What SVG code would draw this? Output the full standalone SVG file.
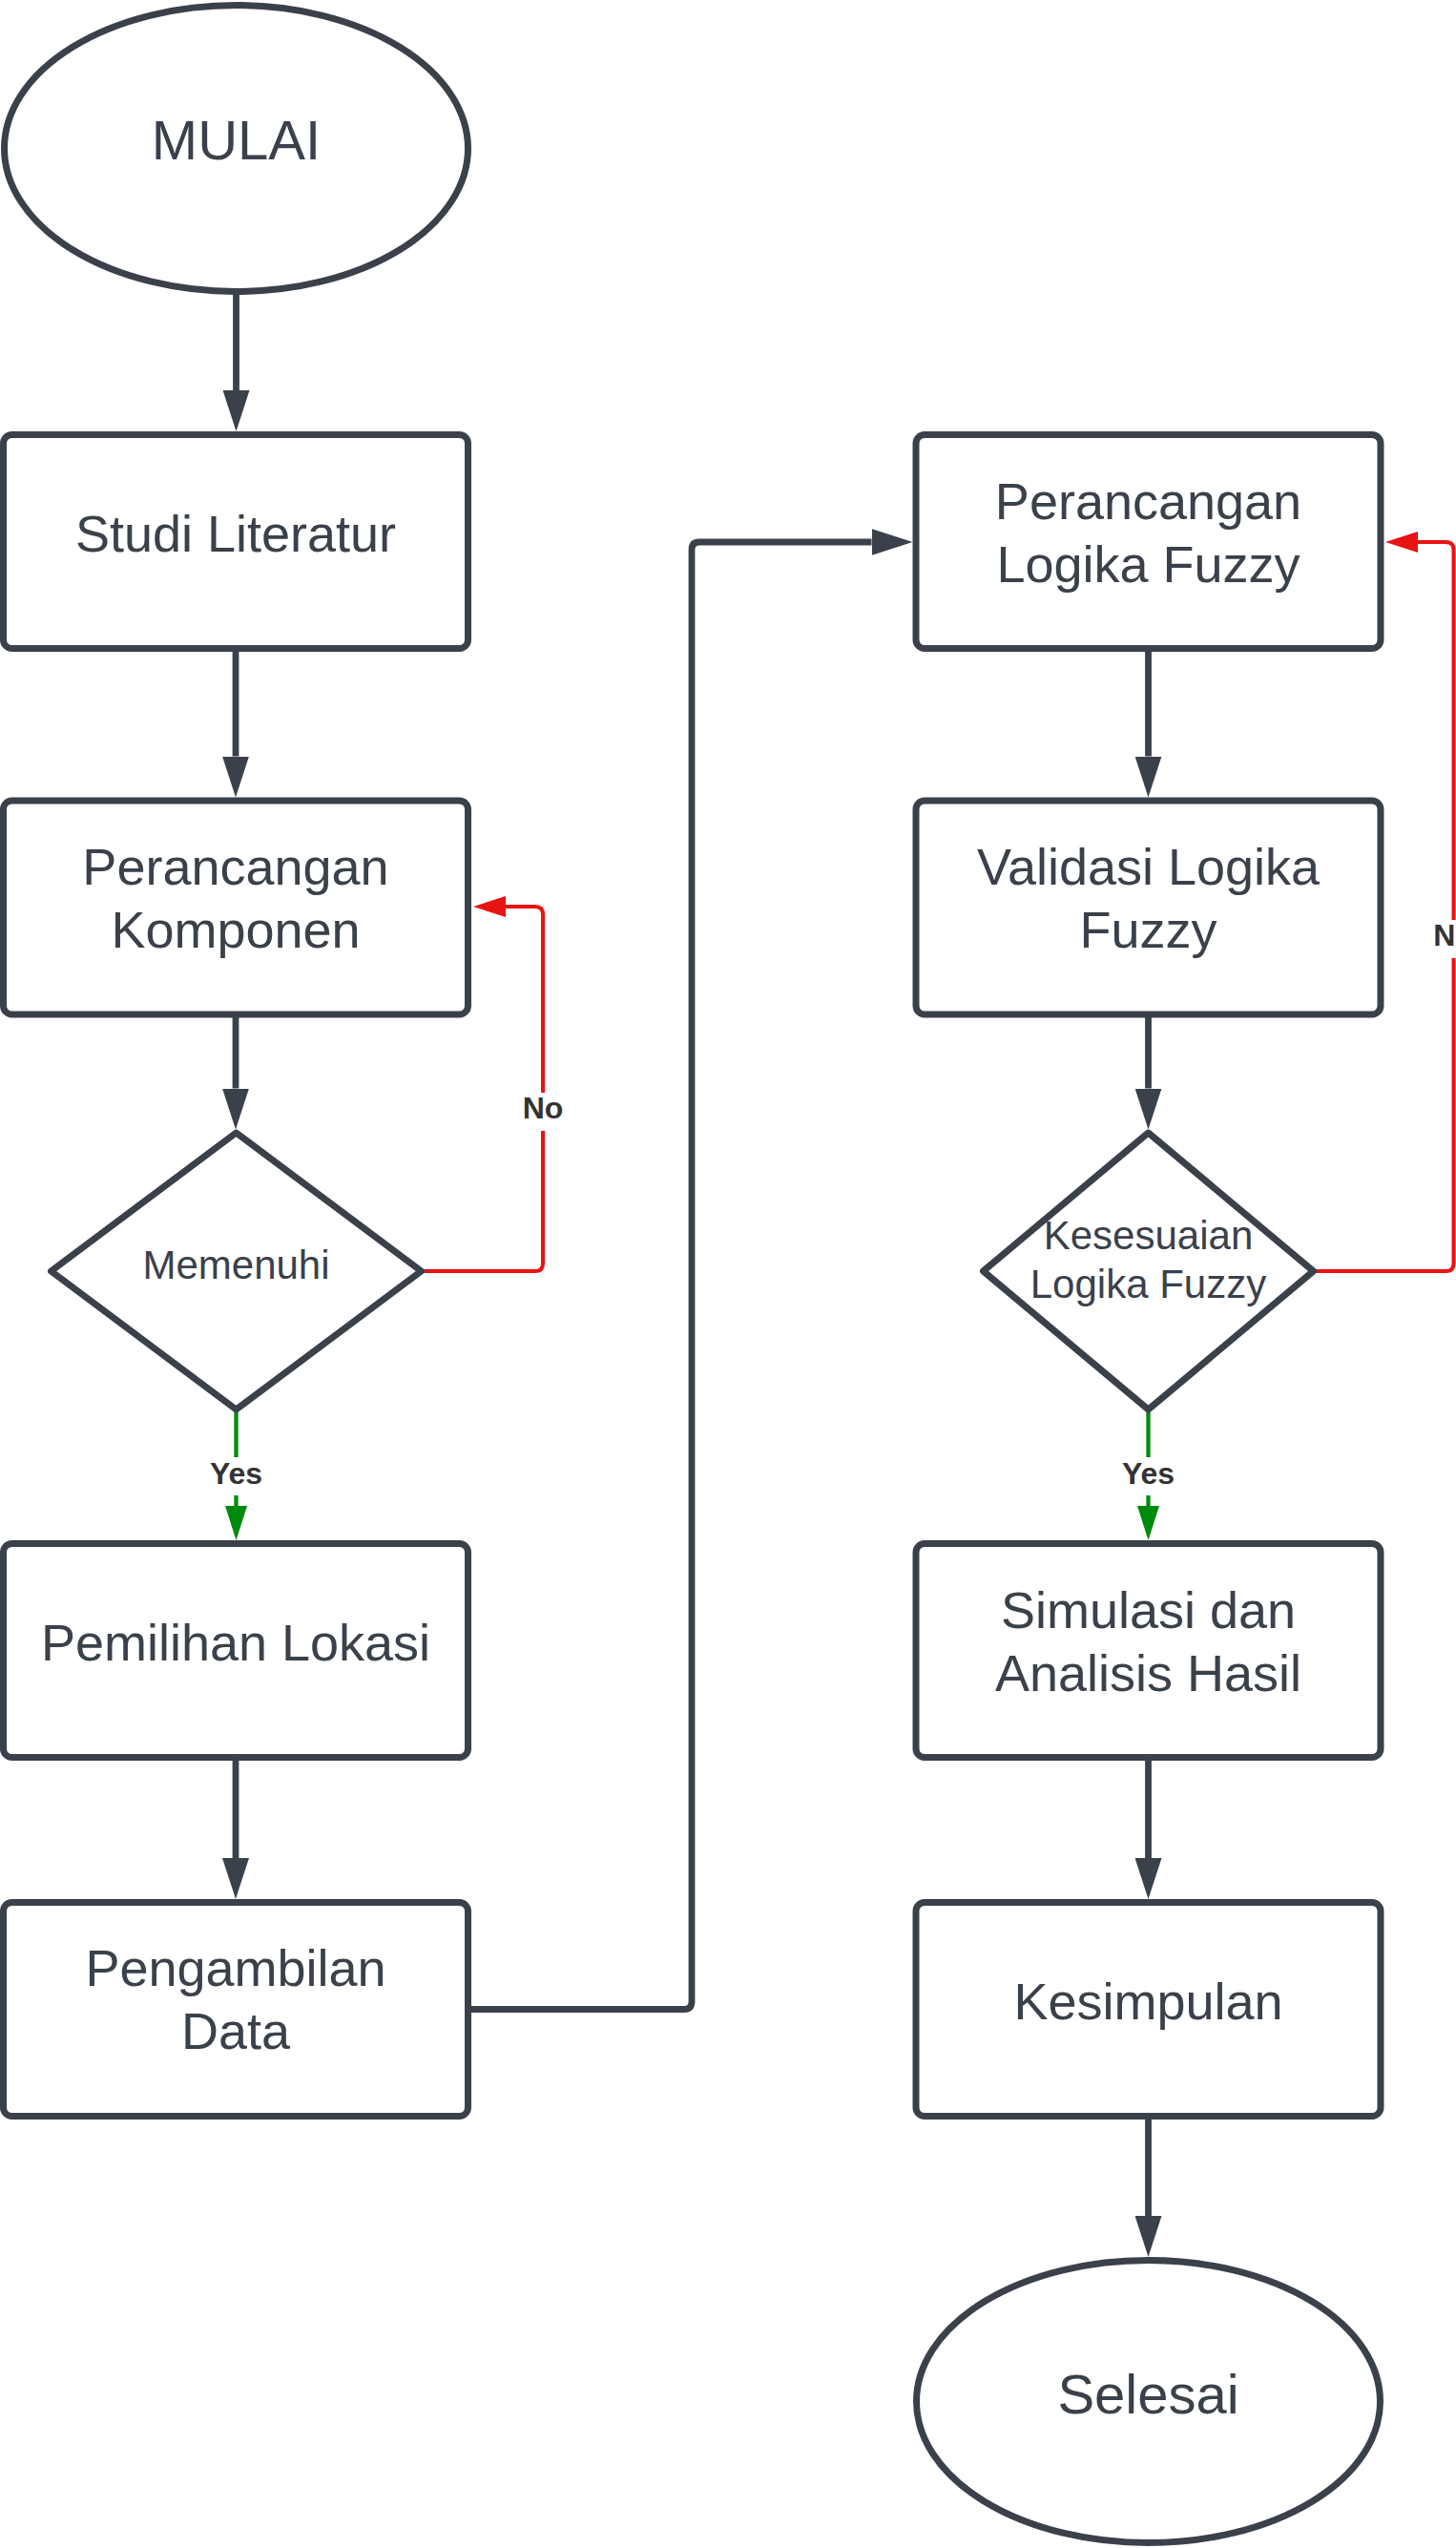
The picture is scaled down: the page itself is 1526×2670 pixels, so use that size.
<svg xmlns="http://www.w3.org/2000/svg" width="1526" height="2670" viewBox="0 0 1526 2670">
<style>
.n{fill:#ffffff;stroke:#3a414a;stroke-width:7;stroke-linejoin:round}
.t{font-family:"Liberation Sans",Arial,sans-serif;fill:#3a414a;text-anchor:middle}
.tb{font-size:54px}
.te{font-size:58px}
.td{font-size:42px}
.c{fill:none;stroke-linejoin:round}
.cd{stroke:#3a414a;stroke-width:6.8}
.cr{stroke:#e81313;stroke-width:4}
.cg{stroke:#008a0e;stroke-width:4.3}
.lb{fill:#ffffff}
.lt{font-family:"Liberation Sans",Arial,sans-serif;font-size:32px;font-weight:bold;fill:#333333;text-anchor:middle}
</style>
<defs>
<marker id="ad" viewBox="0 0 43 28" refX="0" refY="14" markerWidth="43" markerHeight="28" markerUnits="userSpaceOnUse" orient="auto"><path d="M0,0 L43,14 L0,28 Z" fill="#3a414a"/></marker>
<marker id="ar" viewBox="0 0 34 22" refX="0" refY="11" markerWidth="34" markerHeight="22" markerUnits="userSpaceOnUse" orient="auto"><path d="M0,0 L34,11 L0,22 Z" fill="#e81313"/></marker>
<marker id="ag" viewBox="0 0 36 23" refX="0" refY="11.5" markerWidth="36" markerHeight="23" markerUnits="userSpaceOnUse" orient="auto"><path d="M0,0 L36,11.5 L0,23 Z" fill="#008a0e"/></marker>
</defs>
<rect width="1526" height="2670" fill="#ffffff"/>
<g id="connectors">
<path class="c cd" d="M247.5 305.5 V409" marker-end="url(#ad)"/>
<path class="c cd" d="M247 679.5 V792.5" marker-end="url(#ad)"/>
<path class="c cd" d="M247 1063 V1140.5" marker-end="url(#ad)"/>
<path class="c cd" d="M247 1841.5 V1947" marker-end="url(#ad)"/>
<path class="c cd" d="M1203.5 679.5 V792.5" marker-end="url(#ad)"/>
<path class="c cd" d="M1203.5 1063 V1140.5" marker-end="url(#ad)"/>
<path class="c cd" d="M1203.5 1841.5 V1947" marker-end="url(#ad)"/>
<path class="c cd" d="M1203.5 2217.5 V2322" marker-end="url(#ad)"/>
<path class="c cd" d="M490.5 2105.5 H717 Q725 2105.5 725 2097.5 V576 Q725 568 733 568 H913.5" marker-end="url(#ad)"/>
<path class="c cg" d="M247.5 1477 V1578" marker-end="url(#ag)"/>
<path class="c cg" d="M1203.5 1477 V1578" marker-end="url(#ag)"/>
<path class="c cr" d="M441.5 1332 H561 Q569 1332 569 1324 V958 Q569 950 561 950 H530" marker-end="url(#ar)"/>
<path class="c cr" d="M1377.5 1332 H1515.5 Q1523.5 1332 1523.5 1324 V576 Q1523.5 568 1515.5 568 H1486" marker-end="url(#ar)"/>
<rect class="lb" x="543" y="1145" width="52" height="40"/>
<text class="lt" x="569" y="1172">No</text>
<rect class="lb" x="1497.5" y="964" width="52" height="40"/>
<text class="lt" x="1523.5" y="991">No</text>
<rect class="lb" x="216.5" y="1527" width="62" height="40"/>
<text class="lt" x="247.5" y="1554.5">Yes</text>
<rect class="lb" x="1172.5" y="1527" width="62" height="40"/>
<text class="lt" x="1203.5" y="1554.5">Yes</text>
</g>
<g id="mulai">
<ellipse class="n" cx="247.5" cy="155.5" rx="243" ry="150"/>
<text class="t te" x="247.5" y="167">MULAI</text>
</g>
<g id="studi-literatur">
<rect class="n" x="3.5" y="455.5" width="487" height="224" rx="9"/>
<text class="t tb" x="247" y="577.5">Studi Literatur</text>
</g>
<g id="perancangan-komponen">
<rect class="n" x="3.5" y="839" width="487" height="224" rx="9"/>
<text class="t tb" x="247" y="927">Perancangan</text>
<text class="t tb" x="247" y="993">Komponen</text>
</g>
<g id="memenuhi">
<path class="n" d="M53.5 1332 L247.5 1187 L441.5 1332 L247.5 1477 Z"/>
<text class="t td" x="247.5" y="1340">Memenuhi</text>
</g>
<g id="pemilihan-lokasi">
<rect class="n" x="3.5" y="1617.5" width="487" height="224" rx="9"/>
<text class="t tb" x="247" y="1739.5">Pemilihan Lokasi</text>
</g>
<g id="pengambilan-data">
<rect class="n" x="3.5" y="1993.5" width="487" height="224" rx="9"/>
<text class="t tb" x="247" y="2081">Pengambilan</text>
<text class="t tb" x="247" y="2147">Data</text>
</g>
<g id="perancangan-logika-fuzzy">
<rect class="n" x="960" y="455.5" width="487" height="224" rx="9"/>
<text class="t tb" x="1203.5" y="544">Perancangan</text>
<text class="t tb" x="1203.5" y="610">Logika Fuzzy</text>
</g>
<g id="validasi-logika-fuzzy">
<rect class="n" x="960" y="839" width="487" height="224" rx="9"/>
<text class="t tb" x="1203.5" y="927">Validasi Logika</text>
<text class="t tb" x="1203.5" y="993">Fuzzy</text>
</g>
<g id="kesesuaian-logika-fuzzy">
<path class="n" d="M1030.5 1332 L1203.5 1187 L1376.5 1332 L1203.5 1477 Z"/>
<text class="t td" x="1203.5" y="1309">Kesesuaian</text>
<text class="t td" x="1203.5" y="1360">Logika Fuzzy</text>
</g>
<g id="simulasi-dan-analisis-hasil">
<rect class="n" x="960" y="1617.5" width="487" height="224" rx="9"/>
<text class="t tb" x="1203.5" y="1706">Simulasi dan</text>
<text class="t tb" x="1203.5" y="1772">Analisis Hasil</text>
</g>
<g id="kesimpulan">
<rect class="n" x="960" y="1993.5" width="487" height="224" rx="9"/>
<text class="t tb" x="1203.5" y="2115.5">Kesimpulan</text>
</g>
<g id="selesai">
<ellipse class="n" cx="1203.5" cy="2516.5" rx="243" ry="148"/>
<text class="t te" x="1203.5" y="2529">Selesai</text>
</g>
</svg>
